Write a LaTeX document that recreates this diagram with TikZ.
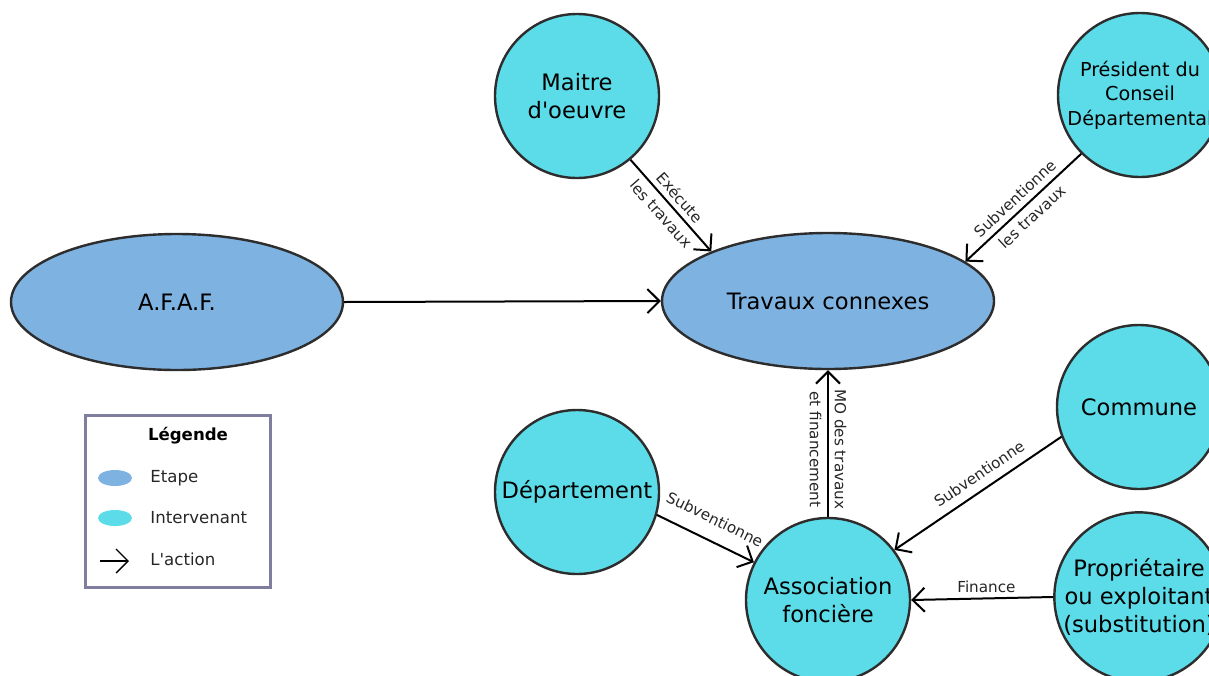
\documentclass[tikz,border=0pt]{standalone}
\usepackage{fontspec}
\setmainfont{DejaVu Sans}
\usetikzlibrary{shapes.geometric,arrows.meta}
\definecolor{etape}{RGB}{126,178,224}
\definecolor{interv}{RGB}{92,220,232}
\definecolor{contour}{RGB}{45,45,45}
\definecolor{cadre}{RGB}{128,126,158}

\begin{document}
\begin{tikzpicture}[x=0.5pt,y=-0.5pt,
	etp/.style={ellipse, draw=contour, line width=1.2pt, fill=etape, minimum width=166pt, minimum height=68pt, inner sep=0pt, font=\fontsize{11.3}{14}\selectfont},
	acteur/.style={circle, draw=contour, line width=1.2pt, fill=interv, minimum size=82pt, inner sep=0pt, align=center, font=\fontsize{11.3}{14}\selectfont},
	act/.style={line width=1pt, -{Straight Barb[length=6pt,width=12pt]}},
	lbl/.style={font=\fontsize{7.6}{12.5}\selectfont, align=center, text=black!85},
	leg/.style={anchor=west, inner sep=0pt, font=\fontsize{8.3}{10}\selectfont, text=black!85}]
	\useasboundingbox (0,0) rectangle (1209,675);
	\node[etp] (afaf) at (177,302) {A.F.A.F.};
	\node[etp] (travaux) at (828,301) {Travaux connexes};
	\node[acteur] (maitre) at (577,96) {Maitre\\d\textquotesingle oeuvre};
	\node[acteur, font=\fontsize{9.6}{12.2}\selectfont] (president) at (1140,95) {Président du\\Conseil\\Départemental};
	\node[acteur] (commune) at (1139,407) {Commune};
	\node[acteur] (proprio) at (1139,597) {Propriétaire\\ou exploitant\\(substitution)};
	\node[acteur] (departement) at (577,492) {Département};
	\node[acteur] (asso) at (828,600) {Association\\foncière};
	\draw[act] (afaf.east) -- (travaux.west);
	\draw[act] (maitre.-50) -- node[lbl, sloped] {Exécute\\les travaux} (travaux.157);
	\draw[act] (president.-135) -- node[lbl, sloped] {Subventionne\\les travaux} (travaux.16);
	\draw[act] (asso.north) -- node[lbl, rotate=-90, pos=0.46] {MO des travaux\\et financement} (travaux.south);
	\draw[act] (departement.-16) -- node[lbl, sloped, above=4pt] {Subventionne} (asso.153);
	\draw[act] (commune.201) -- node[lbl, sloped, above=1pt, pos=0.44] {Subventionne} (asso.37);
	\draw[act] (proprio.west) -- node[lbl, above=-1pt, pos=0.47] {Finance} (asso.east);
	\draw[cadre, line width=1.5pt] (85,415) rectangle (270,587);
	\node[font=\fontsize{8.3}{10}\selectfont\bfseries] (titre) at (188,436) {Légende};
	\node[ellipse, fill=etape, minimum width=17pt, minimum height=8pt, inner sep=0pt] (legetape) at (115,478) {};
	\node[leg] (txtetape) at (150,478) {Etape};
	\node[ellipse, fill=interv, minimum width=17pt, minimum height=8pt, inner sep=0pt] (leginterv) at (115,518) {};
	\node[leg] (txtinterv) at (150,518) {Intervenant};
	\coordinate (fa) at (100,561);
	\coordinate (fb) at (129,561);
	\draw[act, line width=0.7pt] (fa) -- (fb);
	\node[leg] (txtaction) at (150,559) {L\textquotesingle action};
\end{tikzpicture}
\end{document}
